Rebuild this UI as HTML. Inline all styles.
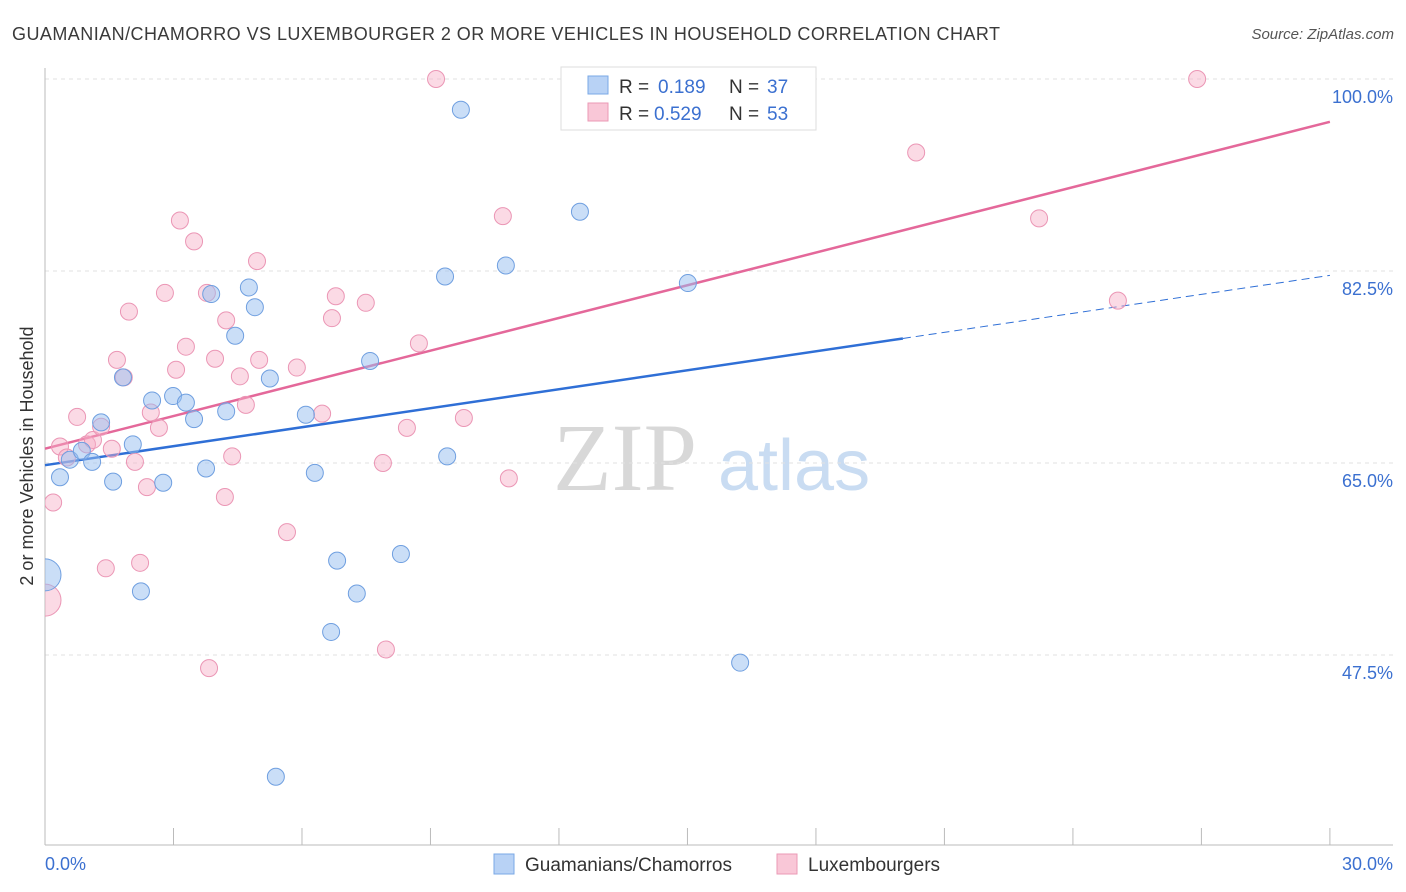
<!DOCTYPE html>
<html><head><meta charset="utf-8"><style>
body{margin:0;background:#fff;font-family:"Liberation Sans",sans-serif}
svg{display:block}
</style></head><body>
<svg id="chart" width="1406" height="892" xmlns="http://www.w3.org/2000/svg" font-family="Liberation Sans, sans-serif">
<defs><clipPath id="plotclip"><rect x="45" y="60" width="1360" height="785"/></clipPath></defs>
<text x="12" y="40" font-size="18" fill="#3a3a3a" textLength="988" lengthAdjust="spacing">GUAMANIAN/CHAMORRO VS LUXEMBOURGER 2 OR MORE VEHICLES IN HOUSEHOLD CORRELATION CHART</text>
<text x="1394" y="39" font-size="15" fill="#555" text-anchor="end" font-style="italic">Source: ZipAtlas.com</text>
<text transform="translate(33,456) rotate(-90)" font-size="18" fill="#333" text-anchor="middle">2 or more Vehicles in Household</text>
<g font-size="96">
<text x="553" y="490" fill="#d8d8d8" font-family="Liberation Serif, serif">ZIP</text>
<text x="718" y="490" fill="#c9dcf2" font-size="72">atlas</text></g>
<g id="grid"></g><g id="axes"></g><g id="trends"></g><g id="pts" clip-path="url(#plotclip)"></g>
<g>
<rect x="561" y="67" width="255" height="63" fill="#fff" stroke="#ddd"/>
<rect x="588" y="76" width="20" height="18" fill="#b8d2f5" stroke="#7aa8e6"/>
<rect x="588" y="103" width="20" height="18" fill="#f9c7d7" stroke="#eb9ab6"/>
<text x="619" y="93" font-size="19" fill="#333">R =</text>
<text x="658" y="93" font-size="19" fill="#3b70d0">0.189</text>
<text x="729" y="93" font-size="19" fill="#333">N =</text>
<text x="767" y="93" font-size="19" fill="#3b70d0">37</text>
<text x="619" y="120" font-size="19" fill="#333">R =</text>
<text x="654" y="120" font-size="19" fill="#3b70d0">0.529</text>
<text x="729" y="120" font-size="19" fill="#333">N =</text>
<text x="767" y="120" font-size="19" fill="#3b70d0">53</text>
</g>
<g>
<rect x="494" y="854" width="20" height="20" fill="#b8d2f5" stroke="#7aa8e6"/>
<text x="525" y="871" font-size="19" fill="#333">Guamanians/Chamorros</text>
<rect x="777" y="854" width="20" height="20" fill="#f9c7d7" stroke="#eb9ab6"/>
<text x="808" y="871" font-size="19" fill="#333">Luxembourgers</text>
</g>
</svg>
<script>
const yTicks=[100,82.5,65,47.5];
const yTickLabels=["100.0%","82.5%","65.0%","47.5%"];
const xTicks=[0,3,6,9,12,15,18,21,24,27,30];
const blueX=[0,.35,.58,.86,1.10,1.31,1.59,2.05,1.82,2.24,2.50,2.76,2.99,3.29,3.48,3.76,3.88,4.23,4.44,4.76,4.90,5.25,5.39,6.09,6.30,6.68,6.82,7.28,7.59,8.31,9.34,9.39,9.71,10.76,12.49,15.01,16.23];
const blueY=[54.8,63.7,65.3,66.1,65.1,68.7,63.3,66.7,72.8,53.3,70.7,63.2,71.1,70.5,69.0,64.5,80.4,69.7,76.6,81.0,79.2,72.7,36.4,69.4,64.1,49.6,56.1,53.1,74.3,56.7,82.0,65.6,97.2,83.0,87.9,81.4,46.8];
const pinkX=[0,.19,.35,.51,.75,.98,1.12,1.31,1.42,1.56,1.68,1.96,1.84,2.10,2.22,2.38,2.47,2.66,2.80,3.06,3.15,3.29,3.48,3.78,3.83,3.97,4.23,4.20,4.37,4.55,4.69,4.95,5.00,5.65,5.88,6.47,6.70,6.79,7.49,7.89,7.96,8.45,8.73,9.13,9.78,10.69,10.83,20.34,23.21,25.05,26.90];
const pinkY=[52.5,61.4,66.5,65.5,69.2,66.7,67.1,68.3,55.4,66.3,74.4,78.8,72.8,65.1,55.9,62.8,69.6,68.2,80.5,73.5,87.1,75.6,85.2,80.5,46.3,74.5,78.0,61.9,65.6,72.9,70.3,83.4,74.4,58.7,73.7,69.5,78.2,80.2,79.6,65.0,48.0,68.2,75.9,100,69.1,87.5,63.6,93.3,87.3,79.8,100];
const blueTrend=[64.8,82.1]; const blueSolidEnd=20.03;
const pinkTrend=[66.3,96.1];
const xs=v=>45+v*42.83, ys=v=>79+(100-v)*10.971;
const NS="http://www.w3.org/2000/svg";
function mk(t,a,p){const e=document.createElementNS(NS,t);for(const k in a)e.setAttribute(k,a[k]);p.appendChild(e);return e;}
const grid=document.getElementById('grid'),axes=document.getElementById('axes'),tr=document.getElementById('trends'),pts=document.getElementById('pts');
yTicks.forEach((v,i)=>{
 const l=mk('line',{x1:45,x2:1393,y1:ys(v),y2:ys(v),stroke:'#e2e2e2','stroke-dasharray':'4,4'},grid);
 
 
 const t=mk('text',{x:1393,y:ys(v)+24,'font-size':18,fill:'#3b70d0','text-anchor':'end'},grid);t.textContent=yTickLabels[i];
 
 
});
const xa=mk('line',{x1:45,x2:1393,y1:845,y2:845,stroke:'#bbb'},axes);


const ya=mk('line',{x1:45,x2:45,y1:68,y2:845,stroke:'#bbb'},axes);


xTicks.forEach(v=>{const l=mk('line',{x1:xs(v),x2:xs(v),y1:828,y2:845,stroke:'#bbb'},axes);
 
 });
const x0=mk('text',{x:45,y:870,'font-size':18,fill:'#3b70d0'},axes);x0.textContent=xTicks[0].toFixed(1)+'%';


const x1=mk('text',{x:1393,y:870,'font-size':18,fill:'#3b70d0','text-anchor':'end'},axes);x1.textContent=xTicks[xTicks.length-1].toFixed(1)+'%';


function ty(tv,x){return tv[0]+(tv[1]-tv[0])*x/30;}
let b1=mk('line',{x1:xs(0),y1:ys(ty(blueTrend,0)),x2:xs(blueSolidEnd),y2:ys(ty(blueTrend,blueSolidEnd)),stroke:'#2f6fd6','stroke-width':2.5},tr);


let b2=mk('line',{x1:xs(blueSolidEnd),y1:ys(ty(blueTrend,blueSolidEnd)),x2:xs(30),y2:ys(ty(blueTrend,30)),stroke:'#2f6fd6','stroke-width':1,'stroke-dasharray':'8,5'},tr);


let p1=mk('line',{x1:xs(0),y1:ys(ty(pinkTrend,0)),x2:xs(30),y2:ys(ty(pinkTrend,30)),stroke:'#e4689a','stroke-width':2.5},tr);


function draw(X,Y,fill,stroke,name){X.forEach((x,i)=>{
 const r=(x===0)?16:8.5;
 const c=mk('circle',{cx:xs(x),cy:ys(Y[i]),r:r,fill:fill,stroke:stroke,'stroke-width':1},pts);
 
 
});}
draw(pinkX,pinkY,'rgba(246,172,198,0.45)','#eb96b5','luxembourger-point');
draw(blueX,blueY,'rgba(150,190,240,0.5)','#6f9fe0','guamanian-point');
</script>
</body></html>
